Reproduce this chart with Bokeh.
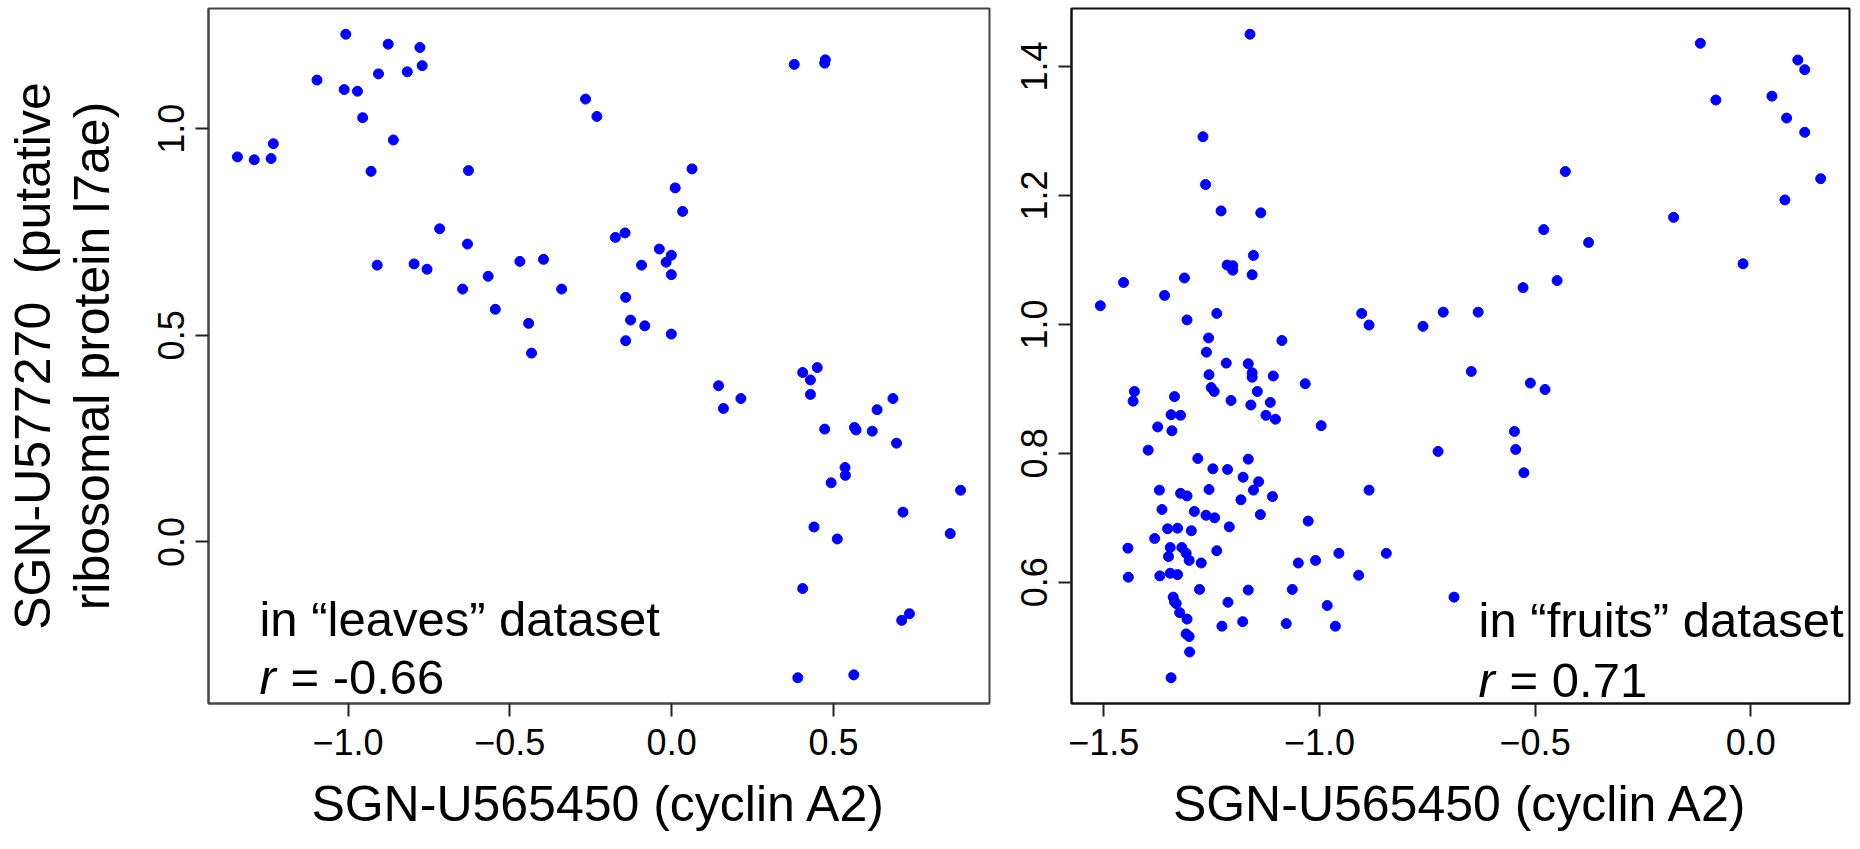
from bokeh.plotting import figure
from bokeh.layouts import row
from bokeh.models import Range1d, FixedTicker, CustomJSTickFormatter, Label
from bokeh.embed import file_html
from bokeh.resources import INLINE

# ---------------- data ----------------
leaves_x = [-1.007, -0.876, -0.778, -0.771, -0.817, -0.906, -1.096, -1.012, -0.971, -0.955,
            -0.860, -1.231, -1.342, -1.290, -1.238, -0.929, -0.628, -0.266, -0.231, -0.717,
            -0.631, -0.910, -0.796, -0.756, -0.469, -0.396, -0.567, -0.646, -0.340, -0.545,
            -0.442, -0.433, 0.379, 0.475, 0.473, 0.063, 0.011, 0.034, -0.174, -0.144,
            -0.038, -0.001, -0.017, -0.093, -0.001, -0.142, -0.127, -0.083, -0.001, -0.142,
            0.145, 0.214, 0.160, 0.405, 0.450, 0.429, 0.429, 0.684, 0.635, 0.473,
            0.565, 0.570, 0.620, 0.695, 0.536, 0.537, 0.493, 0.893, 0.715, 0.440,
            0.512, 0.861, 0.405, 0.735, 0.711, 0.390, 0.563]
leaves_y = [1.229, 1.205, 1.197, 1.153, 1.138, 1.133, 1.118, 1.095, 1.091, 1.027,
            0.973, 0.964, 0.932, 0.925, 0.928, 0.897, 0.899, 1.072, 1.030, 0.758,
            0.721, 0.670, 0.673, 0.660, 0.679, 0.684, 0.643, 0.612, 0.612, 0.563,
            0.529, 0.457, 1.156, 1.167, 1.159, 0.903, 0.857, 0.800, 0.737, 0.748,
            0.709, 0.694, 0.677, 0.670, 0.647, 0.592, 0.537, 0.523, 0.503, 0.487,
            0.378, 0.347, 0.323, 0.410, 0.422, 0.392, 0.357, 0.347, 0.320, 0.273,
            0.277, 0.271, 0.268, 0.239, 0.180, 0.161, 0.143, 0.125, 0.072, 0.036,
            0.007, 0.020, -0.113, -0.174, -0.190, -0.329, -0.322]

fruits_x = [-1.161, -1.270, -1.264, -1.228, -1.136, -1.153, -1.214, -1.201, -1.201, -1.156,
            -1.313, -1.454, -1.359, -1.508, -1.238, -1.307, -0.902, -0.885, -0.760, -0.713,
            -1.257, -1.087, -1.262, -1.216, -1.165, -1.256, -1.156, -1.156, -1.107, -1.033,
            -1.251, -1.244, -1.144, -1.429, -1.432, -1.336, -1.205, -1.159, -1.114, -1.344,
            -1.322, -1.124, -1.102, -0.996,
            -1.375, -1.342, -1.397, -0.725, -1.282, -1.165, -1.247, -1.213, -1.177, -1.141,
            -1.153, -1.256, -1.371, -1.322, -1.307, -0.885, -1.182, -1.109, -1.365, -1.290,
            -1.263, -1.243, -1.137, -1.026, -1.209, -1.352, -1.329, -1.297, -1.382, -1.444,
            -1.346, -1.319, -1.309, -1.350, -1.302, -1.274, -1.238, -1.049, -1.009, -0.955,
            -0.845, -0.909, -1.443, -1.370, -1.346, -1.329, -1.278, -1.165, -1.063, -0.688,
            -1.339, -1.336, -1.332, -1.212, -0.982, -1.324, -1.307, -1.178, -1.226, -1.077,
            -0.963, -1.309, -1.302, -1.301, -1.344,
            -0.117, 0.109, 0.125, -0.081, 0.049, 0.083, 0.125, -0.430, 0.162, 0.079,
            -0.179, -0.480, -0.376, -0.018, -0.528, -0.449, -0.632, -0.648, -0.511, -0.477,
            -0.548, -0.545, -0.526]
fruits_y = [1.450, 1.291, 1.217, 1.176, 1.173, 1.107, 1.092, 1.091, 1.084, 1.077,
            1.072, 1.065, 1.045, 1.029, 1.017, 1.007, 1.017, 0.999, 0.997, 1.019,
            0.979, 0.975, 0.957, 0.940, 0.939, 0.922, 0.925, 0.918, 0.920, 0.908,
            0.902, 0.896, 0.896, 0.896, 0.881, 0.888, 0.882, 0.875, 0.879, 0.860,
            0.859, 0.859, 0.853, 0.843,
            0.841, 0.835, 0.805, 0.803, 0.792, 0.791, 0.776, 0.775, 0.763, 0.756,
            0.743, 0.744, 0.743, 0.738, 0.734, 0.743, 0.728, 0.733, 0.713, 0.710,
            0.704, 0.700, 0.705, 0.695, 0.686, 0.683, 0.684, 0.680, 0.668, 0.653,
            0.654, 0.654, 0.645, 0.640, 0.634, 0.630, 0.649, 0.630, 0.634, 0.645,
            0.645, 0.611, 0.608, 0.610, 0.614, 0.612, 0.589, 0.588, 0.589, 0.577,
            0.577, 0.570, 0.567, 0.569, 0.564, 0.553, 0.543, 0.539, 0.532, 0.536,
            0.532, 0.520, 0.516, 0.492, 0.452,
            1.436, 1.410, 1.395, 1.348, 1.354, 1.320, 1.298, 1.237, 1.226, 1.193,
            1.166, 1.147, 1.127, 1.094, 1.057, 1.068, 1.019, 0.927, 0.909, 0.899,
            0.834, 0.806, 0.770]

leaves_xticks = [-1.0, -0.5, 0.0, 0.5]
leaves_yticks = [0.0, 0.5, 1.0]
fruits_xticks = [-1.5, -1.0, -0.5, 0.0]
fruits_yticks = [0.6, 0.8, 1.0, 1.2, 1.4]

x_title = "SGN-U565450 (cyclin A2)"
y_title = "SGN-U577270\u00a0 (putative\nribosomal protein l7ae)"
leaves_note = "in \u201cleaves\u201d dataset"
leaves_r = "= -0.66"
fruits_note = "in \u201cfruits\u201d dataset"
fruits_r = "= 0.71"

FONT = "Liberation Sans"
POINT_COLOR = "#0000FF"


def padded(vals, frac=0.04):
    lo, hi = min(vals), max(vals)
    d = (hi - lo) * frac
    return Range1d(lo - d, hi + d)


fmt_code = "return (tick < 0 ? '\\u2212' : '') + Math.abs(tick).toFixed(1);"


def make_panel(xs, ys, xticks, yticks, width, left, right, top, bottom, ytitle, frame_color):
    p = figure(width=width, height=849, output_backend="svg", toolbar_location=None,
               x_range=padded(xs), y_range=padded(ys),
               min_border_left=left, min_border_right=right,
               min_border_top=top, min_border_bottom=bottom)
    p.background_fill_color = "white"
    p.border_fill_color = "white"
    p.outline_line_color = frame_color
    p.outline_line_width = 2
    p.xgrid.visible = False
    p.ygrid.visible = False

    p.scatter(xs, ys, size=10, fill_color=POINT_COLOR, line_color=POINT_COLOR)

    for ax, ticks in ((p.xaxis[0], xticks), (p.yaxis[0], yticks)):
        ax.ticker = FixedTicker(ticks=ticks)
        ax.formatter = CustomJSTickFormatter(code=fmt_code)
        ax.axis_line_color = frame_color
        ax.axis_line_width = 2
        ax.major_tick_line_color = "#222222"
        ax.major_tick_line_width = 2
        ax.major_tick_in = 0
        ax.major_tick_out = 13
        ax.minor_tick_line_color = None
        ax.major_label_text_font = FONT
        ax.major_label_text_font_size = "36px"
        ax.major_label_text_color = "black"
        ax.axis_label_text_font = FONT
        ax.axis_label_text_font_size = "50px"
        ax.axis_label_text_font_style = "normal"
        ax.axis_label_text_color = "black"

    xa = p.xaxis[0]
    xa.axis_label = x_title
    xa.major_label_text_line_height = 1.0
    xa.axis_label_text_line_height = 1.0
    xa.major_label_standoff = 12
    xa.axis_label_standoff = 18

    ya = p.yaxis[0]
    ya.major_label_orientation = "parallel"
    ya.major_label_standoff = 11
    if ytitle:
        ya.axis_label = ytitle
        ya.axis_label_standoff = 36
        ya.axis_label_text_line_height = 1.04
    return p


def add_note(p, x, y1, y2, note, rtext):
    common = dict(text_font=FONT, text_font_size="49px", text_color="black",
                  text_baseline="alphabetic", text_align="left")
    p.add_layout(Label(x=x, y=y1, text=note, **common))
    p.add_layout(Label(x=x, y=y2, text="r", text_font_style="italic", **common))
    p.add_layout(Label(x=x, y=y2, x_offset=31, text=rtext, **common))


p1 = make_panel(leaves_x, leaves_y, leaves_xticks, leaves_yticks,
                995, 208, 6, 8, 144, y_title, "#444444")
add_note(p1, -1.274, -0.186, -0.326, leaves_note, leaves_r)

p2 = make_panel(fruits_x, fruits_y, fruits_xticks, fruits_yticks,
                865, 76, 11, 5, 146, None, "#111111")
add_note(p2, -0.631, 0.542, 0.448, fruits_note, fruits_r)

layout = row(p1, p2)
open("out.html", "w").write(file_html(layout, INLINE))
